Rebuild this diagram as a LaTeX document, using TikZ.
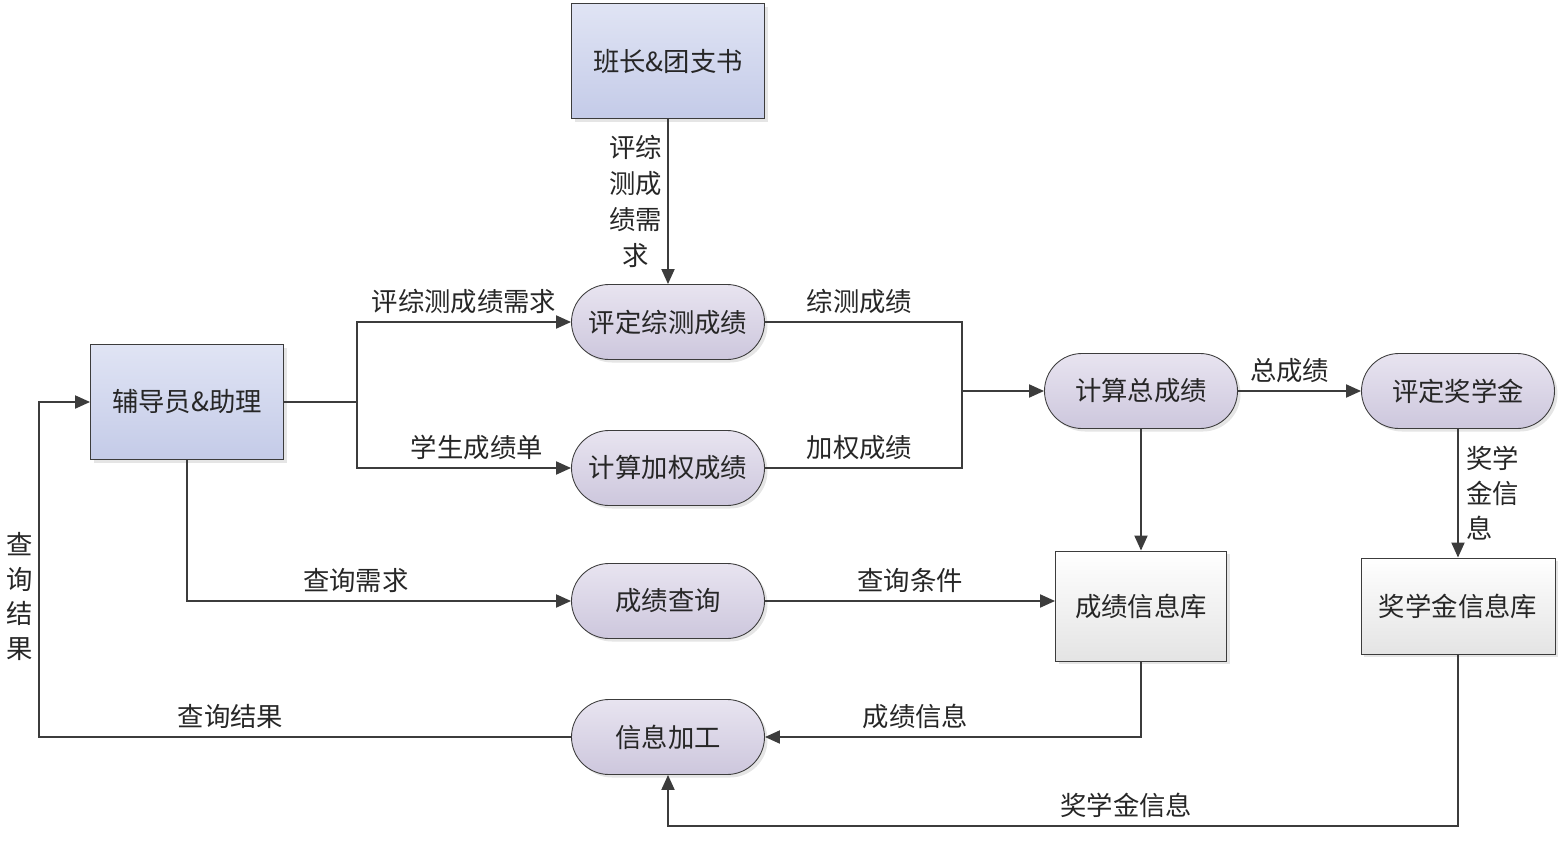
\documentclass[tikz,border=0pt]{standalone}
\usepackage{fontspec}
\setmainfont{Noto Sans CJK SC}
\usetikzlibrary{positioning, arrows.meta, shadows}
\definecolor{linegray}{HTML}{3C3C3C}
\definecolor{entitytop}{HTML}{E0E4F4}
\definecolor{entitybot}{HTML}{C4CBE8}
\definecolor{proctop}{HTML}{E8E4F0}
\definecolor{procbot}{HTML}{CDC7DD}
\definecolor{storebot}{HTML}{E4E4E4}

\begin{document}
\begin{tikzpicture}
    [
        on grid, font=\fontsize{15}{18}\selectfont, text=black!85,
        entity_node/.style={rectangle, draw=linegray, line width=0.5pt, top color=entitytop, bottom color=entitybot, minimum width=38.6mm, minimum height=23mm, drop shadow={shadow xshift=0.6mm, shadow yshift=-0.6mm, fill=black!20}},
        proc_node/.style={rectangle, rounded corners=7.5mm, draw=linegray, line width=0.5pt, top color=proctop, bottom color=procbot, minimum width=38.6mm, minimum height=15mm, drop shadow={shadow xshift=0.6mm, shadow yshift=-0.6mm, fill=black!20}},
        store_node/.style={rectangle, draw=linegray, line width=0.5pt, top color=white, bottom color=storebot, drop shadow={shadow xshift=0.6mm, shadow yshift=-0.6mm, fill=black!20}},
        flow_label/.style={inner sep=1.5mm},
    ]
        \useasboundingbox (0,0) rectangle (31.16,-17);
        \node[entity_node] (bz) at (13.36,-1.22) {班长\&团支书} ;
        \node[proc_node] (p1) [below = 5.22 of bz] {评定综测成绩} ;
        \node[proc_node] (p2) [below = 2.92 of p1] {计算加权成绩} ;
        \node[proc_node] (p3) [below = 2.66 of p2] {成绩查询} ;
        \node[proc_node] (p4) [below = 2.72 of p3] {信息加工} ;
        \node[entity_node] (ldr) [below left = 1.6 and 9.62 of p1] {辅导员\&助理} ;
        \node[proc_node] (p5) [below right = 1.38 and 9.46 of p1] {计算总成绩} ;
        \node[proc_node] (p6) [right = 6.34 of p5] {评定奖学金} ;
        \node[store_node, minimum width=34.2mm, minimum height=22mm] (db1) [below = 4.3 of p5] {成绩信息库} ;
        \node[store_node, minimum width=38.8mm, minimum height=19.2mm] (db2) [below = 4.3 of p6] {奖学金信息库} ;
        \node[coordinate] (br) [right = 1.46 of ldr.east] {} ;
        \node[coordinate] (jn) [below right = 1.38 and 3.94 of p1.east] {} ;
        \node[coordinate] (bk) [left = 1.02 of ldr.west] {} ;
        % flows
        \draw[-{Triangle[length=3mm, width=2.6mm]}, line width=1.1pt, color=linegray] (bz) -- (p1) node[flow_label, inner sep=1mm, midway, left, align=center, text=black!85, font=\fontsize{15}{20.5}\selectfont] {评综\\测成\\绩需\\求} ;
        \draw[line width=1.1pt, color=linegray] (ldr.east) -- (br) ;
        \draw[-{Triangle[length=3mm, width=2.6mm]}, line width=1.1pt, color=linegray] (br) |- (p1) node[flow_label, pos=0.75, above, text=black!85] {评综测成绩需求} ;
        \draw[-{Triangle[length=3mm, width=2.6mm]}, line width=1.1pt, color=linegray] (br) |- (p2) node[flow_label, pos=0.78, above, text=black!85] {学生成绩单} ;
        \draw[line width=1.1pt, color=linegray] (p1) -| (jn) node[flow_label, pos=0.24, above, text=black!85] {综测成绩} ;
        \draw[line width=1.1pt, color=linegray] (p2) -| (jn) node[flow_label, pos=0.24, above, text=black!85] {加权成绩} ;
        \draw[-{Triangle[length=3mm, width=2.6mm]}, line width=1.1pt, color=linegray] (jn) -- (p5) ;
        \draw[-{Triangle[length=3mm, width=2.6mm]}, line width=1.1pt, color=linegray] (p5) -- (p6) node[flow_label, pos=0.42, above, text=black!85] {总成绩} ;
        \draw[-{Triangle[length=3mm, width=2.6mm]}, line width=1.1pt, color=linegray] (p5) -- (db1) ;
        \draw[-{Triangle[length=3mm, width=2.6mm]}, line width=1.1pt, color=linegray] (p6) -- (db2) node[flow_label, midway, right, align=left, text=black!85, font=\fontsize{15}{19.8}\selectfont] {奖学\\金信\\息} ;
        \draw[-{Triangle[length=3mm, width=2.6mm]}, line width=1.1pt, color=linegray] (ldr) |- (p3) node[flow_label, pos=0.72, above, text=black!85] {查询需求} ;
        \draw[-{Triangle[length=3mm, width=2.6mm]}, line width=1.1pt, color=linegray] (p3) -- (p3 -| db1.west) node[flow_label, midway, above, text=black!85] {查询条件} ;
        \draw[-{Triangle[length=3mm, width=2.6mm]}, line width=1.1pt, color=linegray] (db1) |- (p4) node[flow_label, pos=0.8, above, text=black!85] {成绩信息} ;
        \draw[-{Triangle[length=3mm, width=2.6mm]}, line width=1.1pt, color=linegray] (db2.south) -- ++(0,-3.44) -| (p4) node[flow_label, pos=0.21, above, text=black!85] {奖学金信息} ;
        \draw[-{Triangle[length=3mm, width=2.6mm]}, line width=1.1pt, color=linegray] (p4) -| (bk) node[flow_label, pos=0.32, above, text=black!85] {查询结果} node[flow_label, inner sep=1mm, pos=0.71, left, align=center, text=black!85, font=\fontsize{15}{19.7}\selectfont] {查\\询\\结\\果} -- (ldr) ;
    \end{tikzpicture}
\end{document}
